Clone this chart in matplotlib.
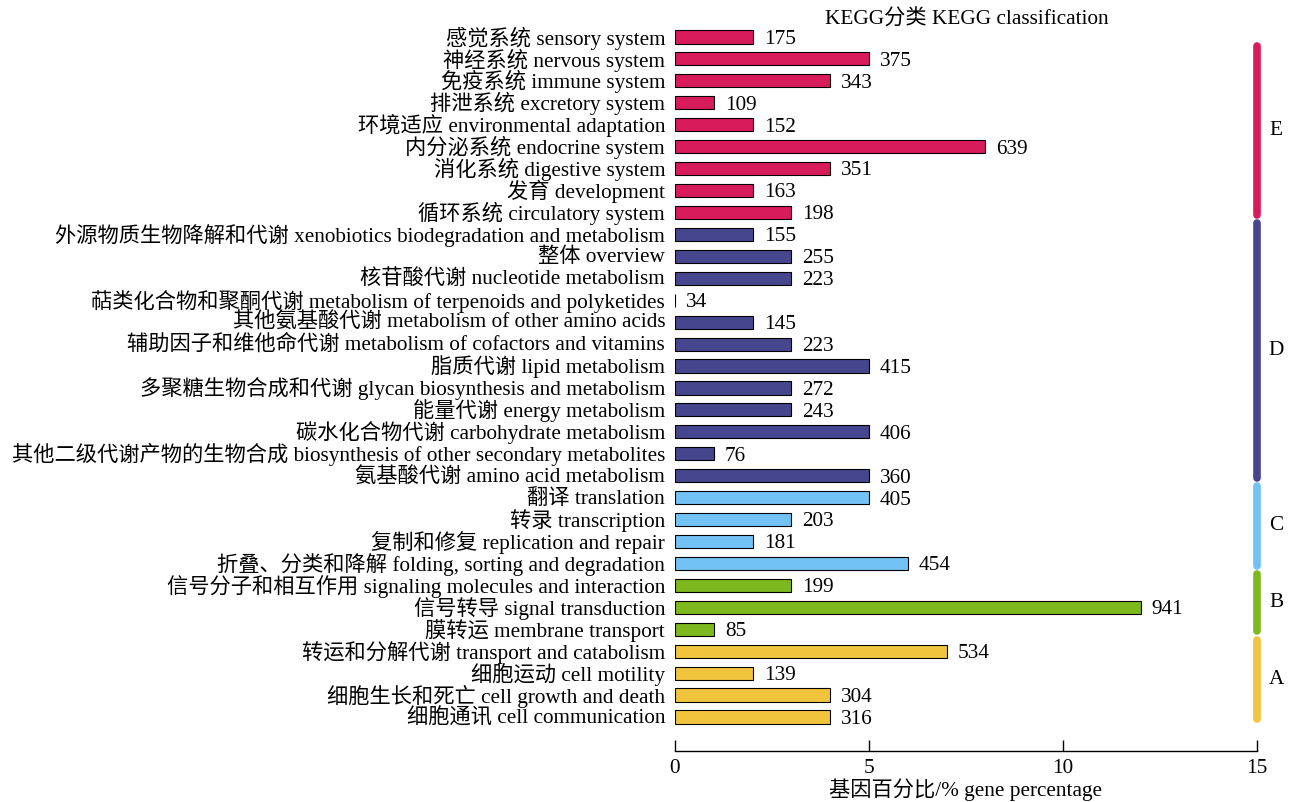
import matplotlib
matplotlib.use('Agg')
import matplotlib.pyplot as plt


# KEGG rows, top to bottom
labels = [
    '感觉系统 sensory system', '神经系统 nervous system', '免疫系统 immune system',
    '排泄系统 excretory system', '环境适应 environmental adaptation',
    '内分泌系统 endocrine system', '消化系统 digestive system', '发育 development',
    '循环系统 circulatory system',
    '外源物质生物降解和代谢 xenobiotics biodegradation and metabolism',
    '整体 overview', '核苷酸代谢 nucleotide metabolism',
    '萜类化合物和聚酮代谢 metabolism of terpenoids and polyketides',
    '其他氨基酸代谢 metabolism of other amino acids',
    '辅助因子和维他命代谢 metabolism of cofactors and vitamins',
    '脂质代谢 lipid metabolism', '多聚糖生物合成和代谢 glycan biosynthesis and metabolism',
    '能量代谢 energy metabolism', '碳水化合物代谢 carbohydrate metabolism',
    '其他二级代谢产物的生物合成 biosynthesis of other secondary metabolites',
    '氨基酸代谢 amino acid metabolism',
    '翻译 translation', '转录 transcription', '复制和修复 replication and repair',
    '折叠、分类和降解 folding, sorting and degradation',
    '信号分子和相互作用 signaling molecules and interaction',
    '信号转导 signal transduction', '膜转运 membrane transport',
    '转运和分解代谢 transport and catabolism', '细胞运动 cell motility',
    '细胞生长和死亡 cell growth and death', '细胞通讯 cell communication',
]
gene_counts = [175, 375, 343, 109, 152, 639, 351, 163, 198,
               155, 255, 223, 34, 145, 223, 415, 272, 243, 406, 76, 360,
               405, 203, 181, 454,
               199, 941, 85,
               534, 139, 304, 316]
gene_percent = [2, 5, 4, 1, 2, 8, 4, 2, 3,
                2, 3, 3, 0, 2, 3, 5, 3, 3, 5, 1, 5,
                5, 3, 2, 6,
                3, 12, 1,
                7, 2, 4, 4]
group_names = ['E', 'D', 'C', 'B', 'A']
group_sizes = [9, 12, 4, 3, 4]
group_colors = ['#D81B5A', '#46468F', '#73C2F5', '#7CB81E', '#F0C43C']

plt.rcParams['font.family'] = ['Liberation Serif', 'Noto Sans CJK SC']
FS = 15.3


def plot_data():
    fig = plt.figure(figsize=(12.93, 8.03), dpi=100)
    ax = fig.add_axes([0.522, 0.0635, 0.4501, 0.9116])

    colors = []
    for c, n in zip(group_colors, group_sizes):
        colors += [c] * n
    ypos = list(range(len(labels)))

    ax.barh(ypos, gene_percent, height=0.6, color=colors,
            edgecolor='black', linewidth=0.8)
    for y, w, n in zip(ypos, gene_percent, gene_counts):
        ax.annotate(str(n), (w, y), xytext=(8, -1), textcoords='offset points',
                    va='center', ha='left', fontsize=FS)

    ax.set_xlim(0, 15)
    ax.set_ylim(32.55, -0.82)
    ax.set_yticks(ypos)
    ax.set_yticklabels(labels, fontsize=FS)
    for t in ax.get_yticklabels():
        t.set_va('center')
    ax.tick_params(axis='y', length=0, pad=7)
    ax.set_xticks([0, 5, 10, 15])
    ax.tick_params(axis='x', direction='in', length=8, width=1, labelsize=FS, pad=5)
    for s in ['left', 'top', 'right']:
        ax.spines[s].set_visible(False)
    ax.spines['bottom'].set_linewidth(1)
    ax.set_xlabel('基因百分比/% gene percentage', fontsize=FS, labelpad=0)

    # group bars on the right
    start = 0
    for i, (name, n, c) in enumerate(zip(group_names, group_sizes, group_colors)):
        last = start + n - 1
        top = start - 0.62 if i > 0 else start + 0.3
        bottom = last + 0.1
        ax.plot([15, 15], [top + 0.1, bottom], color=c, lw=5.5,
                solid_capstyle='round', clip_on=False)
        ax.text(15.5, (top + bottom) / 2, name, fontsize=FS, va='center', ha='center')
        start += n

    fig.text(0.748, 0.976, 'KEGG分类 KEGG classification', fontsize=FS,
             ha='center', va='center')
    fig.savefig('out.png', dpi=100)


if __name__ == '__main__':
    plot_data()
